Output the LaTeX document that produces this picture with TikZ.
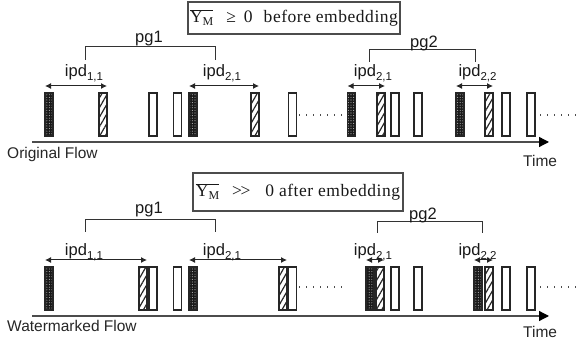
\documentclass[tikz,border=0pt]{standalone}
\usepackage{fontspec}
\setmainfont{Liberation Sans}
\newfontfamily\boxserif{Liberation Serif}[LetterSpace=3]
\usetikzlibrary{arrows.meta,patterns.meta}

% "ipd" with its index pair set as a lowered subscript
\newcommand\ipdtxt[1]{ipd\raisebox{-4pt}{\fontsize{11.5}{12}\selectfont #1}}
% mean of Y_M, with a bar over it
\newcommand\ymbar{$\overline{\hbox{Y\raisebox{-3pt}{\fontsize{12}{12}\selectfont M}}}$}

\begin{document}
\begin{tikzpicture}[x=1pt,y=-1pt,
  pkt/.style={draw=black!85,line width=1.1pt,minimum width=8pt,minimum height=43pt,
              inner sep=0pt,outer sep=0pt},
  blk/.style={pkt,preaction={fill=black!90},
              pattern={Dots[radius=0.55pt,distance=2.6pt]},pattern color=white!70!black},
  hat/.style={pkt,pattern={Lines[angle=60,distance=4.8pt,line width=1.2pt]},pattern color=black!85},
  emp/.style={pkt},
  lab/.style={font=\fontsize{16.5}{18}\selectfont,text=black!90,inner sep=0pt,anchor=base},
  flow/.style={font=\fontsize{15.5}{17}\selectfont,text=black!85,inner sep=0pt,anchor=base west},
  fbox/.style={draw=black!70,line width=1.2pt,inner sep=0pt,text=black!90,
               font=\boxserif\fontsize{17.5}{20}\selectfont},
  axis/.style={draw=black!70,line width=1.3pt,-{Triangle[length=10pt,width=10pt,black]}},
  ipd/.style={draw=black!85,line width=1pt,{Latex[length=6pt,width=6pt]}-{Latex[length=6pt,width=6pt]}},
  brk/.style={draw=black!80,line width=1pt},
  dots/.style={draw=black!70,line width=1.3pt,dash pattern=on 1.4pt off 5.6pt}
]
\useasboundingbox (0,0) rectangle (579,347);

% ================= original flow =================
\node[fbox,minimum width=212pt,minimum height=32pt] (f1) at (294,18)
  {\ymbar\hspace{13pt}≥\hspace{8pt}0\hspace{11pt}before embedding};

\node[blk] (a1) at (49,114.5) {};
\node[hat] (a2) at (103,114.5) {};
\node[emp] (a3) at (153,114.5) {};
\node[emp] (a4) at (177.5,114.5) {};
\node[blk] (a5) at (193,114.5) {};
\node[hat] (a6) at (255,114.5) {};
\node[emp] (a7) at (292.5,114.5) {};
\node[blk] (a8) at (351.5,114.5) {};
\node[hat] (a9) at (381,114.5) {};
\node[emp] (a10) at (395,114.5) {};
\node[emp] (a11) at (418,114.5) {};
\node[blk] (a12) at (460,114.5) {};
\node[hat] (a13) at (489,114.5) {};
\node[emp] (a14) at (506,114.5) {};
\node[emp] (a15) at (531,114.5) {};

\coordinate (ad1) at (299,115); \coordinate (ad2) at (342,115);
\coordinate (ad3) at (540,115); \coordinate (ad4) at (582,115);
\draw[dots] (ad1) -- (ad2);
\draw[dots] (ad3) -- (ad4);

\coordinate (ax0) at (32,142); \coordinate (ax1) at (549,142);
\draw[axis] (ax0) -- (ax1);

\draw[ipd] ([yshift=7pt]a1.north west) -- ([yshift=7pt]a2.north east);
\draw[ipd] ([yshift=7pt]a5.north west) -- ([yshift=7pt]a6.north east);
\draw[ipd] ([yshift=7pt]a8.north west) -- ([yshift=7pt]a9.north east);
\draw[ipd] ([yshift=7pt]a12.north west) -- ([yshift=7pt]a13.north east);

\node[lab] (ai1) at (84,77) {\ipdtxt{1,1}};
\node[lab] (ai2) at (222,77) {\ipdtxt{2,1}};
\node[lab] (ai3) at (373,77) {\ipdtxt{2,1}};
\node[lab] (ai4) at (477.5,77) {\ipdtxt{2,2}};

\coordinate (ab1) at (85,60); \coordinate (ab2) at (215,60);
\coordinate (ab3) at (369,62); \coordinate (ab4) at (475,62);
\draw[brk] (ab1) -- ++(0,-13) -| (ab2);
\draw[brk] (ab3) -- ++(0,-12) -| (ab4);
\node[lab] (ap1) at (149,43) {pg1};
\node[lab] (ap2) at (424,48) {pg2};

\node[flow] (aname) at (7,159) {Original Flow};
\node[flow] (atime) at (523,167) {Time};

% ================= watermarked flow =================
\node[fbox,minimum width=210pt,minimum height=38pt] (f2) at (298,192)
  {\ymbar\hspace{13pt}>\kern-1.5pt>\hspace{15pt}0 after embedding};

\node[blk] (b1) at (49,288.5) {};
\node[hat] (b2) at (143,288.5) {};
\node[emp] (b3) at (153,288.5) {};
\node[emp] (b4) at (177.5,288.5) {};
\node[blk] (b5) at (193,288.5) {};
\node[hat] (b6) at (283,288.5) {};
\node[emp] (b7) at (292.5,288.5) {};
\node[blk] (b8) at (370,288.5) {};
\node[hat] (b9) at (380,288.5) {};
\node[emp] (b10) at (395,288.5) {};
\node[emp] (b11) at (418,288.5) {};
\node[blk] (b12) at (478,288.5) {};
\node[hat] (b13) at (489,288.5) {};
\node[emp] (b14) at (506,288.5) {};
\node[emp] (b15) at (531,288.5) {};

\coordinate (bd1) at (299,287); \coordinate (bd2) at (342,287);
\coordinate (bd3) at (540,287); \coordinate (bd4) at (582,287);
\draw[dots] (bd1) -- (bd2);
\draw[dots] (bd3) -- (bd4);

\coordinate (bx0) at (32,316); \coordinate (bx1) at (549,316);
\draw[axis] (bx0) -- (bx1);

\draw[ipd] ([yshift=7pt]b1.north west) -- ([yshift=7pt]b2.north east);
\draw[ipd] ([yshift=7pt]b5.north west) -- ([yshift=7pt]b6.north east);
\draw[ipd] ([yshift=7pt]b8.north west) -- ([yshift=7pt]b9.north east);
\draw[ipd] ([yshift=7pt]b12.north west) -- ([yshift=7pt]b13.north east);

\node[lab] (bi1) at (84,256) {\ipdtxt{1,1}};
\node[lab] (bi2) at (222,256) {\ipdtxt{2,1}};
\node[lab] (bi3) at (373,256) {\ipdtxt{2,1}};
\node[lab] (bi4) at (477.5,256) {\ipdtxt{2,2}};

\coordinate (bb1) at (85,232); \coordinate (bb2) at (215,232);
\coordinate (bb3) at (377,233); \coordinate (bb4) at (482,233);
\draw[brk] (bb1) -- ++(0,-12) -| (bb2);
\draw[brk] (bb3) -- ++(0,-11) -| (bb4);
\node[lab] (bp1) at (149,214) {pg1};
\node[lab] (bp2) at (423,220) {pg2};

\node[flow] (bname) at (7,332) {Watermarked Flow};
\node[flow] (btime) at (523,338) {Time};
\end{tikzpicture}
\end{document}
